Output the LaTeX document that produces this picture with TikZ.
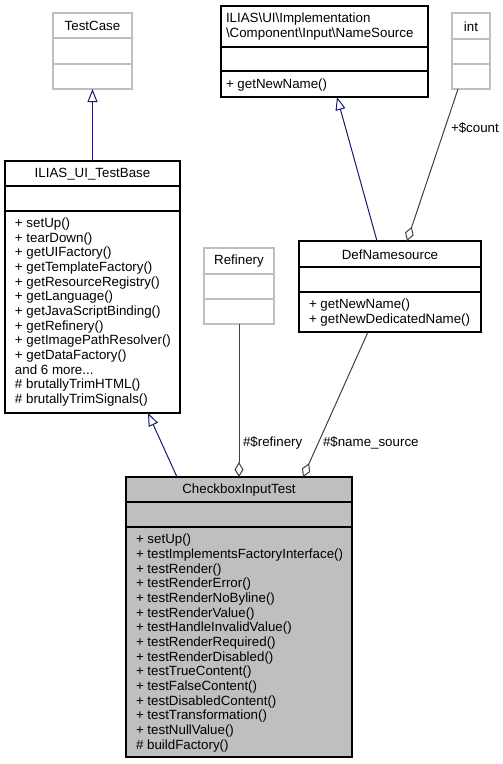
\documentclass[tikz,border=0pt]{standalone}
\usepackage{fontspec}
\setmainfont{Liberation Sans}
\usetikzlibrary{arrows.meta,calc}
\definecolor{edgeblue}{HTML}{191970}
\definecolor{edgegray}{HTML}{404040}
\definecolor{boxgray}{HTML}{BFBFBF}
\definecolor{fillgray}{HTML}{BFBFBF}
\newcommand\dfont{\fontsize{13.33}{14.65}\selectfont}
\begin{document}
\begin{tikzpicture}[x=1pt,y=-1pt,
  cls/.style={draw=black,line width=1.2pt,rectangle,inner sep=0pt,outer sep=0pt,anchor=north west},
  gcls/.style={cls,draw=boxgray},
  sepline/.style={line width=1.2pt,draw=black},
  gsepline/.style={line width=1.2pt,draw=boxgray},
  txt/.style={font=\dfont,inner sep=0pt,outer sep=0pt},
  mlist/.style={txt,anchor=west,align=left},
  lbl/.style={txt,anchor=west},
  inh/.style={draw=edgeblue,line width=1pt,-{Triangle[open,length=13pt,width=10pt,fill=white]}},
  agg/.style={draw=edgegray,line width=1pt,-{Diamond[open,length=15pt,width=9pt,fill=white]}}]
\useasboundingbox (0,0) rectangle (503,764);

% TestCase
\node[gcls,minimum width=79pt,minimum height=76pt] (tc) at (53,13) {};
\draw[gsepline] ($(tc.north west)+(0,25)$) -- ($(tc.north east)+(0,25)$);
\draw[gsepline] ($(tc.north west)+(0,51)$) -- ($(tc.north east)+(0,51)$);
\node[txt] (tct) at (92.5,26) {TestCase};

% NameSource
\node[cls,minimum width=207pt,minimum height=91pt] (ns) at (221,6) {};
\draw[sepline] ($(ns.north west)+(0,41)$) -- ($(ns.north east)+(0,41)$);
\draw[sepline] ($(ns.north west)+(0,65)$) -- ($(ns.north east)+(0,65)$);
\node[mlist] (nst) at (226,26.5) {ILIAS\textbackslash UI\textbackslash Implementation\\\textbackslash Component\textbackslash Input\textbackslash NameSource};
\node[mlist] (nsm) at (226,85) {+ getNewName()};

% int
\node[gcls,minimum width=38pt,minimum height=76pt] (intc) at (452,13) {};
\draw[gsepline] ($(intc.north west)+(0,26)$) -- ($(intc.north east)+(0,26)$);
\draw[gsepline] ($(intc.north west)+(0,51)$) -- ($(intc.north east)+(0,51)$);
\node[txt] (intt) at (471,26.5) {int};

% ILIAS_UI_TestBase
\node[cls,minimum width=175pt,minimum height=252pt] (tb) at (5,161) {};
\draw[sepline] ($(tb.north west)+(0,25)$) -- ($(tb.north east)+(0,25)$);
\draw[sepline] ($(tb.north west)+(0,50)$) -- ($(tb.north east)+(0,50)$);
\node[txt] (tbt) at (92.5,174) {ILIAS\_UI\_TestBase};
\node[mlist] (tbm) at (15,312) {+ setUp()\\+ tearDown()\\+ getUIFactory()\\+ getTemplateFactory()\\+ getResourceRegistry()\\+ getLanguage()\\+ getJavaScriptBinding()\\+ getRefinery()\\+ getImagePathResolver()\\+ getDataFactory()\\and 6 more...\\\# brutallyTrimHTML()\\\# brutallyTrimSignals()};

% Refinery
\node[gcls,minimum width=70pt,minimum height=76pt] (rf) at (204,248) {};
\draw[gsepline] ($(rf.north west)+(0,26)$) -- ($(rf.north east)+(0,26)$);
\draw[gsepline] ($(rf.north west)+(0,51)$) -- ($(rf.north east)+(0,51)$);
\node[txt] (rft) at (239,261.5) {Refinery};

% DefNamesource
\node[cls,minimum width=182pt,minimum height=91pt] (dn) at (299,241) {};
\draw[sepline] ($(dn.north west)+(0,26)$) -- ($(dn.north east)+(0,26)$);
\draw[sepline] ($(dn.north west)+(0,51)$) -- ($(dn.north east)+(0,51)$);
\node[txt] (dnt) at (390,254.5) {DefNamesource};
\node[mlist] (dnm) at (309,312.5) {+ getNewName()\\+ getNewDedicatedName()};

% CheckboxInputTest
\node[cls,fill=fillgray,minimum width=226pt,minimum height=280pt] (cb) at (126,477) {};
\draw[sepline] ($(cb.north west)+(0,25)$) -- ($(cb.north east)+(0,25)$);
\draw[sepline] ($(cb.north west)+(0,50)$) -- ($(cb.north east)+(0,50)$);
\node[txt] (cbt) at (239,490) {CheckboxInputTest};
\node[mlist] (cbm) at (136,643) {+ setUp()\\+ testImplementsFactoryInterface()\\+ testRender()\\+ testRenderError()\\+ testRenderNoByline()\\+ testRenderValue()\\+ testHandleInvalidValue()\\+ testRenderRequired()\\+ testRenderDisabled()\\+ testTrueContent()\\+ testFalseContent()\\+ testDisabledContent()\\+ testTransformation()\\+ testNullValue()\\\# buildFactory()};

% connectors
\draw[inh] (tb.north) -- (tc.south);
\draw[inh] ($(dn.north)+(-13,0)$) -- ($(ns.south)+(12.5,0)$);
\draw[agg] ($(intc.south)+(-13,0)$) -- ($(dn.north)+(17,0)$);
\draw[agg] (rf.south) -- (cb.north);
\draw[agg] ($(dn.south)+(-22,0)$) -- ($(cb.north)+(64,0)$);
\draw[inh] ($(cb.north)+(-62,0)$) -- ($(tb.south)+(55.5,0)$);

% labels
\node[lbl] (lcount) at (451,128) {+\$count};
\node[lbl] (lref) at (243,443) {\#\$refinery};
\node[lbl] (lname) at (323,443) {\#\$name\_source};
\end{tikzpicture}
\end{document}
